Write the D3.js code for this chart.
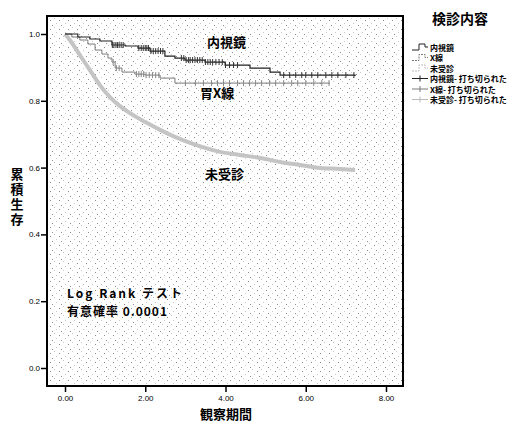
<!doctype html>
<html lang="ja">
<head>
<meta charset="utf-8">
<title>累積生存</title>
<style>
	body { margin: 0; background: #fff; }
	text { font-family: "Noto Sans CJK JP", "DejaVu Sans", sans-serif; fill: #000; }
	.tick text { font-family: "Liberation Sans", Arial, sans-serif; font-size: 8px; }
	.tick line { stroke: #000; stroke-width: 1.5; }
	.lbl { font-weight: bold; }
</style>
</head>
<body>
<div id="viz"></div>
<script src="https://cdn.jsdelivr.net/npm/d3@7"></script>
<script>

// DATA
// survival steps: [time, cumulative survival]
var endoSteps = [[0,1.0],[32,0.991],[62,0.985],[87,0.979],[117,0.967],[150,0.964],[182,0.958],[212,0.949],
	[249,0.934],[274,0.928],[299,0.922],[349,0.916],[399,0.907],[461,0.898],[511,0.886],[536,0.877],[723,0.874]];
var xraySteps = [[0,1.0],[17,0.991],[37,0.982],[57,0.970],[75,0.952],[92,0.940],[107,0.928],[117,0.916],
	[125,0.898],[142,0.886],[174,0.880],[199,0.877],[237,0.868],[274,0.853],[660,0.853]];
var noneSteps = [[0,1.0],[12,0.982],[37,0.937],[62,0.892],[87,0.847],[112,0.811],[137,0.784],[162,0.763],
	[199,0.737],[237,0.713],[274,0.692],[312,0.674],[349,0.659],[386,0.647],[436,0.638],[486,0.629],
	[536,0.617],[586,0.608],[636,0.599],[685,0.596],[723,0.593]];

// censored times
var endoCensor = [118,122,127,131,135,140,145,184,190,195,200,204,208,214,220,226,232,238,244,
	290,296,302,308,312,318,324,330,336,342,350,356,362,368,376,384,392,400,410,420,430,
	545,560,575,590,600,615,630,650,665,680,700,720];
var xrayCensor = [120,128,135,178,184,190,196,202,210,218,226,234,
	300,325,345,365,380,395,410,430,445,460,475,490,510,525,545,565,580,600,620,640,658];

var yTicks = [0, 0.2, 0.4, 0.6, 0.8, 1.0];
var yTickLabels = ["0.0", "0.2", "0.4", "0.6", "0.8", "1.0"];
var xTicks = [0, 200, 400, 600, 800];
var xTickLabels = ["0.00", "2.00", "4.00", "6.00", "8.00"];

var legendTitle = "検診内容";
var legendLabels = ["内視鏡", "X線", "未受診", "内視鏡- 打ち切られた", "X線- 打ち切られた", "未受診- 打ち切られた"];

// Dimensions
var w = 521, h = 425;
var frame = {left: 47, right: 403, top: 16, bottom: 386};

var svg = d3.select("#viz").append("svg")
	.attr("width", w)
	.attr("height", h);

var x = d3.scaleLinear().domain([0, 800]).range([65, 386]);
var y = d3.scaleLinear().domain([0, 1]).range([368, 34]);

// stipple background
var defs = svg.append("defs");
var pat = defs.append("pattern")
	.attr("id", "stip")
	.attr("patternUnits", "userSpaceOnUse")
	.attr("width", 9).attr("height", 9);
pat.append("rect").attr("width", 9).attr("height", 9).attr("fill", "#fff");
[[0,0],[5,2],[2,5],[7,7]].forEach(function(p, i){
	pat.append("rect").attr("x", p[0]).attr("y", p[1]).attr("width", 1).attr("height", 1)
		.attr("fill", i % 2 ? "#8c8c8c" : "#c8c8c8");
});

svg.append("rect")
	.attr("x", frame.left).attr("y", frame.top)
	.attr("width", frame.right - frame.left)
	.attr("height", frame.bottom - frame.top)
	.attr("fill", "url(#stip)");

// AXES
var yAxis = d3.axisLeft(y).tickValues(yTicks).tickSize(6).tickPadding(1)
	.tickFormat(function(d, i){ return yTickLabels[i]; });
svg.append("g").attr("transform", "translate(" + frame.left + ",0)").call(yAxis)
	.call(function(g){ g.select(".domain").remove(); });

var xAxis = d3.axisBottom(x).tickValues(xTicks).tickSize(6).tickPadding(3)
	.tickFormat(function(d, i){ return xTickLabels[i]; });
svg.append("g").attr("transform", "translate(0," + frame.bottom + ")").call(xAxis)
	.call(function(g){ g.select(".domain").remove(); });

// LINES
var line = d3.line()
	.x(function(d){ return x(d[0]); })
	.y(function(d){ return y(d[1]); })
	.curve(d3.curveStepAfter);

// many small steps in the unscreened group read as a smooth band
var smooth = d3.line()
	.x(function(d){ return x(d[0]); })
	.y(function(d){ return y(d[1]); })
	.curve(d3.curveMonotoneX);

svg.append("path").datum(noneSteps)
	.attr("d", smooth).attr("fill", "none")
	.attr("stroke", "#c4c4c4").attr("stroke-width", 4);

svg.append("path").datum(xraySteps)
	.attr("d", line).attr("fill", "none")
	.attr("stroke", "#7a7a7a").attr("stroke-width", 1);

svg.append("path").datum(endoSteps)
	.attr("d", line).attr("fill", "none")
	.attr("stroke", "#222").attr("stroke-width", 1.2);

// survival value at time t (step function)
function survAt(steps, t) {
	var s = steps[0][1];
	steps.forEach(function(d){ if (d[0] <= t) s = d[1]; });
	return s;
}

svg.append("g").selectAll("line")
	.data(xrayCensor).enter().append("line")
	.attr("x1", function(d){ return x(d); }).attr("x2", function(d){ return x(d); })
	.attr("y1", function(d){ return y(survAt(xraySteps, d)) - 3; })
	.attr("y2", function(d){ return y(survAt(xraySteps, d)) + 3; })
	.attr("stroke", "#888").attr("stroke-width", 1);

svg.append("g").selectAll("line")
	.data(endoCensor).enter().append("line")
	.attr("x1", function(d){ return x(d); }).attr("x2", function(d){ return x(d); })
	.attr("y1", function(d){ return y(survAt(endoSteps, d)) - 3; })
	.attr("y2", function(d){ return y(survAt(endoSteps, d)) + 3; })
	.attr("stroke", "#333").attr("stroke-width", 1);

// FRAME
svg.append("rect")
	.attr("x", frame.left).attr("y", frame.top)
	.attr("width", frame.right - frame.left)
	.attr("height", frame.bottom - frame.top)
	.attr("fill", "none").attr("stroke", "#000").attr("stroke-width", 2);

// LABELS IN PLOT
svg.append("text").attr("class", "lbl").attr("x", 207).attr("y", 47)
	.style("font-size", "13px").text("内視鏡");
svg.append("text").attr("class", "lbl").attr("x", 200).attr("y", 98)
	.style("font-size", "13px").text("胃X線");
svg.append("text").attr("class", "lbl").attr("x", 205).attr("y", 179)
	.style("font-size", "13px").text("未受診");
svg.append("text").attr("class", "lbl").attr("x", 67).attr("y", 298)
	.style("font-size", "12px").style("letter-spacing", "2px").text("Log  Rank  テスト");
svg.append("text").attr("class", "lbl").attr("x", 67).attr("y", 316)
	.style("font-size", "12px").style("letter-spacing", "1px").text("有意確率  0.0001");

// AXIS TITLES
svg.append("text").attr("class", "lbl")
	.attr("x", 17).attr("y", 168)
	.style("writing-mode", "vertical-rl")
	.style("font-size", "13px").style("letter-spacing", "2px")
	.text("累積生存");
svg.append("text").attr("class", "lbl").attr("x", 226).attr("y", 419)
	.attr("text-anchor", "middle").style("font-size", "13px").text("観察期間");

// LEGEND
svg.append("text").attr("class", "lbl").attr("x", 460).attr("y", 24)
	.attr("text-anchor", "middle").style("font-size", "14px").text(legendTitle);

var legY = [47, 57.5, 68, 78.5, 89, 99.5];
var legStroke = ["#222", "#7a7a7a", "#bbb", "#222", "#7a7a7a", "#bbb"];
var leg = svg.append("g").selectAll("g")
	.data(legendLabels).enter().append("g")
	.attr("transform", function(d, i){ return "translate(0," + legY[i] + ")"; });

leg.append("path")
	.attr("d", function(d, i){
		return i < 3 ? "M412,3H419V-3H425V0H428" : "M412,0H428M420,-3V3";
	})
	.attr("fill", "none")
	.attr("stroke", function(d, i){ return legStroke[i]; })
	.attr("stroke-dasharray", function(d, i){ return i === 1 || i === 2 ? "2,1" : null; })
	.attr("stroke-width", 1);

leg.append("text").attr("x", 430).attr("y", 3.5)
	.style("font-size", "8px").style("font-weight", "bold")
	.text(function(d){ return d; });

</script>
</body>
</html>
